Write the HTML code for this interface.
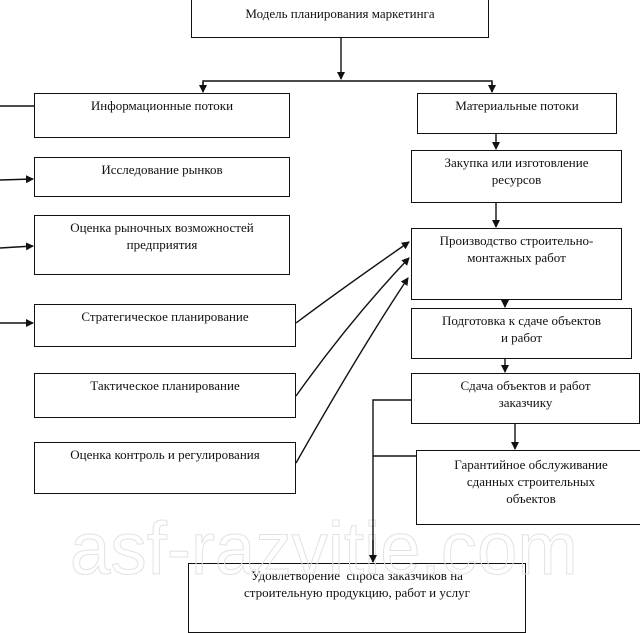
<!DOCTYPE html>
<html><head><meta charset="utf-8"><style>
body{margin:0;width:640px;height:621px;background:#fff;position:relative;overflow:hidden;font-family:"Liberation Serif","DejaVu Serif",serif;}
.b{position:absolute;border:1.5px solid #111;box-sizing:border-box;text-align:center;font-size:13px;line-height:17px;color:#111;padding-top:3px;background:#fff;}
svg{position:absolute;left:0;top:0;}
.wm{position:absolute;left:70px;top:506px;font-family:"Liberation Sans",sans-serif;font-size:74px;color:transparent;-webkit-text-stroke:1px #e2e2e2;white-space:nowrap;transform:scaleX(0.98);transform-origin:0 0;}
</style></head><body>
<div class="b" style="left:191px;top:-2px;width:298px;height:40px;padding-top:6px">Модель планирования маркетинга</div>
<div class="b" style="left:34px;top:93px;width:256px;height:45px">Информационные потоки</div>
<div class="b" style="left:34px;top:157px;width:256px;height:40px">Исследование рынков</div>
<div class="b" style="left:34px;top:215px;width:256px;height:60px">Оценка рыночных возможностей<br>предприятия</div>
<div class="b" style="left:34px;top:304px;width:262px;height:43px">Стратегическое планирование</div>
<div class="b" style="left:34px;top:373px;width:262px;height:45px">Тактическое планирование</div>
<div class="b" style="left:34px;top:442px;width:262px;height:52px">Оценка контроль и регулирования</div>
<div class="b" style="left:417px;top:93px;width:200px;height:41px">Материальные потоки</div>
<div class="b" style="left:411px;top:150px;width:211px;height:53px">Закупка или изготовление<br>ресурсов</div>
<div class="b" style="left:411px;top:228px;width:211px;height:72px">Производство строительно-<br>монтажных работ</div>
<div class="b" style="left:411px;top:308px;width:221px;height:51px">Подготовка к сдаче объектов<br>и работ</div>
<div class="b" style="left:411px;top:373px;width:229px;height:51px">Сдача объектов и работ<br>заказчику</div>
<div class="b" style="left:416px;top:450px;width:230px;height:75px;padding-top:5px">Гарантийное обслуживание<br>сданных строительных<br>объектов</div>
<div class="b" style="left:188px;top:563px;width:338px;height:70px">Удовлетворение&nbsp; спроса заказчиков на<br>строительную продукцию, работ и услуг</div>
<div class="wm">asf-razvitie.com</div>
<svg width="640" height="621" viewBox="0 0 640 621">
<defs><marker id="a" markerWidth="8" markerHeight="8" refX="7" refY="4" orient="auto" markerUnits="userSpaceOnUse"><path d="M0,0 L8,4 L0,8 z" fill="#111"/></marker></defs>
<g stroke="#111" stroke-width="1.4" fill="none">
<line x1="341" y1="38" x2="341" y2="79" marker-end="url(#a)"/>
<polyline points="203,92 203,81 492,81 492,92"/>
<line x1="203" y1="82" x2="203" y2="92" marker-end="url(#a)"/>
<line x1="492" y1="82" x2="492" y2="92" marker-end="url(#a)"/>
<line x1="0" y1="106" x2="34" y2="106"/>
<line x1="0" y1="180" x2="33" y2="179" marker-end="url(#a)"/>
<line x1="0" y1="248" x2="33" y2="246" marker-end="url(#a)"/>
<line x1="0" y1="323" x2="33" y2="323" marker-end="url(#a)"/>
<line x1="496" y1="134" x2="496" y2="149" marker-end="url(#a)"/>
<line x1="496" y1="203" x2="496" y2="227" marker-end="url(#a)"/>
<line x1="505" y1="300" x2="505" y2="307" marker-end="url(#a)"/>
<line x1="505" y1="359" x2="505" y2="372" marker-end="url(#a)"/>
<line x1="515" y1="424" x2="515" y2="449" marker-end="url(#a)"/>
<path d="M296,323 Q340,290 409,242" marker-end="url(#a)"/>
<path d="M296,396 Q350,320 409,258" marker-end="url(#a)"/>
<path d="M296,463 Q360,350 408,278" marker-end="url(#a)"/>
<polyline points="411,400 373,400 373,562"/>
<line x1="373" y1="540" x2="373" y2="562" marker-end="url(#a)"/>
<line x1="373" y1="456" x2="416" y2="456"/>
</g></svg>
</body></html>
